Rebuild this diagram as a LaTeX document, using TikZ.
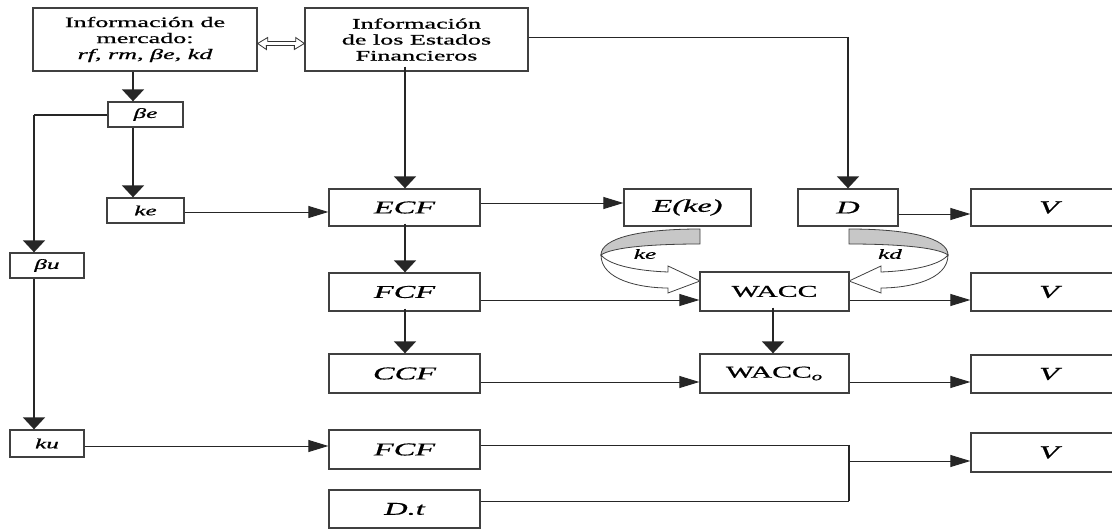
\documentclass[tikz,border=0pt]{standalone}
\usepackage{fontspec}
\usepackage{graphicx}
\setmainfont{Liberation Serif}[FakeBold=0.6]
\usetikzlibrary{arrows.meta}
\newcommand{\sx}[1]{\scalebox{1.8}[1]{#1}}
\tikzset{
  box/.style={draw=black!75, line width=1.3pt, fill=white, inner sep=0pt, align=center},
  big/.style={font=\fontsize{18}{20}\selectfont},
  small/.style={font=\fontsize{14}{16}\selectfont},
  top/.style={font=\fontsize{14.5}{16}\selectfont},
  varr/.style={line width=1.6pt, black!85, -{Triangle[length=12pt,width=22pt]}},
  harr/.style={line width=0.9pt, black!85, -{Triangle[length=20pt,width=12pt]}},
  conn/.style={line width=0.9pt, black!85},
  vconn/.style={line width=1.6pt, black!85},
  ribbon/.style={draw=black!75, line width=0.8pt},
}
\begin{document}
\begin{tikzpicture}[x=1pt,y=-1pt]
\useasboundingbox (0,0) rectangle (1112,529);
\clip (0,0) rectangle (1112,529);
% top boxes
\node[box,top,minimum width=224pt,minimum height=63pt] (merc) at (145,39.5)
  {\sx{Información de}\\\sx{mercado:}\\\sx{\itshape rf, rm, βe, kd}};
\node[box,top,minimum width=223pt,minimum height=63pt] (eeff) at (416.5,39.5)
  {\sx{Información}\\\sx{de los Estados}\\\sx{Financieros}};
% left column
\node[box,small,minimum width=75pt,minimum height=25pt] (be) at (145.5,114.5) {\sx{\itshape βe}};
\node[box,small,minimum width=77pt,minimum height=25pt] (ke) at (145.5,210.5) {\sx{\itshape ke}};
\node[box,small,minimum width=74pt,minimum height=25pt] (bu) at (47,265.5) {\sx{\itshape βu}};
\node[box,small,minimum width=74pt,minimum height=27pt] (ku) at (47,443.5) {\sx{\itshape ku}};
% middle column
\node[box,big,minimum width=151pt,minimum height=37pt] (ECF) at (404.5,207.5) {\sx{\itshape ECF}};
\node[box,big,minimum width=151pt,minimum height=38pt] (FCF) at (404.5,292) {\sx{\itshape FCF}};
\node[box,big,minimum width=151pt,minimum height=39pt] (CCF) at (404.5,373.5) {\sx{\itshape CCF}};
\node[box,big,minimum width=151pt,minimum height=39pt] (FCFb) at (404.5,449.5) {\sx{\itshape FCF}};
\node[box,big,minimum width=151pt,minimum height=38pt] (Dt) at (404.5,509) {\sx{\itshape D.t}};
% right-middle
\node[box,big,minimum width=127pt,minimum height=37pt] (Eke) at (687.5,207.5) {\sx{\itshape E(ke)}};
\node[box,big,minimum width=100pt,minimum height=37pt] (D) at (848,207.5) {\sx{\itshape D}};
\node[box,font=\fontsize{16.5}{18}\selectfont,minimum width=149pt,minimum height=39pt] (WACC) at (774.5,291.5) {\sx{WACC}};
\node[box,font=\fontsize{16.5}{18}\selectfont,minimum width=149pt,minimum height=39pt] (WACCo) at (774.5,373.5) {\sx{WACC\textsubscript{\itshape o}}};
% V column
\node[box,big,minimum width=156pt,minimum height=37pt] (V1) at (1049,207.5) {\sx{\itshape V}};
\node[box,big,minimum width=156pt,minimum height=38pt] (V2) at (1049,292) {\sx{\itshape V}};
\node[box,big,minimum width=156pt,minimum height=38pt] (V3) at (1049,374) {\sx{\itshape V}};
\node[box,big,minimum width=156pt,minimum height=39pt] (V4) at (1049,452.5) {\sx{\itshape V}};
% helper coordinates
\coordinate (xa) at (133,0);
\coordinate (xl) at (34,0);
\coordinate (xm) at (405,0);
\coordinate (xd) at (848,0);
\coordinate (xw) at (773,0);
\coordinate (lc) at (34,115);
\coordinate (tr) at (848,37);
\coordinate (j1) at (849,445);
\coordinate (j2) at (849,501);
\coordinate (j3) at (849,461);
% double hollow arrow
\draw[line width=0.8pt, black!80, fill=white] (merc.east |- 0,43.5) -- ++(10,-6) -- ++(0,4) -- ++(28,0) -- ++(0,-4) -- (eeff.west |- 0,43.5) -- ++(-10,6) -- ++(0,-4) -- ++(-28,0) -- ++(0,4) -- cycle;
% connectors
\draw[varr] (merc.south -| xa) -- (be.north -| xa);
\draw[varr] (be.south -| xa) -- (ke.north -| xa);
\draw[vconn] (be.west |- lc) -- (lc);
\draw[varr] (lc) -- (bu.north -| xl);
\draw[varr] (bu.south -| xl) -- (ku.north -| xl);
\draw[harr] (ku.east |- 0,446) -- (FCFb.west |- 0,446);
\draw[harr] (ke.east |- 0,212) -- (ECF.west |- 0,212);
\draw[varr] ([yshift=5pt]eeff.south -| xm) -- (ECF.north -| xm);
\draw[conn] (eeff.east |- tr) -- (tr);
\draw[varr] (tr) -- (D.north);
\draw[harr] (ECF.east |- 0,203) -- (Eke.west |- 0,203);
\draw[harr] (D.east |- 0,214) -- (V1.west |- 0,214);
\draw[varr] ([yshift=3pt]ECF.south -| xm) -- (FCF.north -| xm);
\draw[varr] ([yshift=3pt]FCF.south -| xm) -- (CCF.north -| xm);
\draw[harr] (FCF.east |- 0,300) -- (WACC.west |- 0,300);
\draw[harr] (WACC.east |- 0,300) -- (V2.west |- 0,300);
\draw[varr] ([yshift=4pt]WACC.south -| xw) -- (WACCo.north -| xw);
\draw[harr] (CCF.east |- 0,382) -- (WACCo.west |- 0,382);
\draw[harr] (WACCo.east |- 0,382) -- (V3.west |- 0,382);
\draw[conn] (FCFb.east |- j1) -- (j1);
\draw[vconn] (j1) -- (j2);
\draw[conn] (j2) -- (Dt.east |- j2);
\draw[harr] (j3) -- (V4.west |- j3);
% curved ribbon arrows
\path[ribbon, fill=white] (601,255) .. controls (601,280) and (640,288) .. (668,288) -- (668,293) -- (700,281) -- (668,266) -- (668,272) .. controls (640,271) and (610,266) .. (601,255) -- cycle;
\path[ribbon, fill=black!22] (700,229) .. controls (640,229) and (601,238) .. (601,255) .. controls (612,247) and (655,244) .. (700,244) -- cycle;
\path[ribbon, fill=white] (948,255) .. controls (948,280) and (909,288) .. (881,288) -- (881,293) -- (849,281) -- (881,266) -- (881,272) .. controls (909,271) and (939,266) .. (948,255) -- cycle;
\path[ribbon, fill=black!22] (849,229) .. controls (909,229) and (948,238) .. (948,255) .. controls (937,247) and (894,244) .. (849,244) -- cycle;
\node[font=\fontsize{14}{16}\selectfont\itshape] (lke) at (645,254) {\sx{ke}};
\node[font=\fontsize{14}{16}\selectfont\itshape] (lkd) at (890,254) {\sx{kd}};
\end{tikzpicture}
\end{document}
